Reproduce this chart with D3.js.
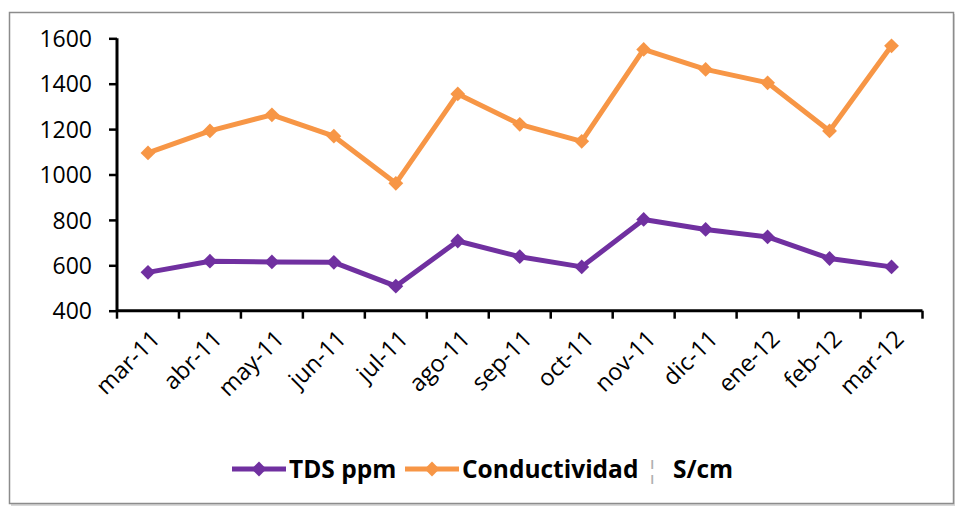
<!DOCTYPE html>
<html>
<head>
<meta charset="utf-8">
<script src="https://cdn.jsdelivr.net/npm/d3@7"></script>
<style>
  body { margin: 0; background: #fff; }
  text { font-family: "Open Sans", sans-serif; fill: #000; }
</style>
</head>
<body>
<svg id="chart" width="956" height="508"></svg>
<script>
// data
var months = ['mar-11','abr-11','may-11','jun-11','jul-11','ago-11','sep-11','oct-11','nov-11','dic-11','ene-12','feb-12','mar-12'];
var tdsValues = [569, 618, 615, 613, 508, 707, 638, 593, 802, 758, 725, 630, 593];
var condValues = [1095, 1192, 1263, 1169, 961, 1355, 1221, 1146, 1551, 1463, 1404, 1192, 1567];
var yTicks = [400, 600, 800, 1000, 1200, 1400, 1600];

var seriesList = [
  { name: 'TDS ppm', values: tdsValues, color: '#7030A0' },
  { name: 'Conductividad', unit: 'S/cm', values: condValues, color: '#F79646' }
];

var svg = d3.select('#chart');

// frame with a little shadow
svg.append('rect').attr('x', 11).attr('y', 14).attr('width', 944).attr('height', 492)
    .style('fill', '#d8d8d8');
svg.append('rect').attr('x', 9.5).attr('y', 12.5).attr('width', 944).attr('height', 491)
    .style('fill', '#fff').style('stroke', '#8c8c8c').style('stroke-width', 1.5);

var x = d3.scaleBand().domain(months).range([117, 922.5]);
var y = d3.scaleLinear().domain([400, 1600]).range([310.7, 38.3]);

var gChart = svg.append('g');

// y axis
var yAxis = gChart.append('g').attr('transform', 'translate(117,0)')
    .call(d3.axisLeft(y).tickValues(yTicks).tickSize(8).tickPadding(17).tickFormat(d3.format('d')));
// x axis, ticks on category boundaries
var bounds = months.map(m => x(m)).concat([x.range()[1]]);
var xAxis = gChart.append('g').attr('transform', 'translate(0,' + y(400) + ')');
xAxis.append('line').attr('x1', 117).attr('x2', x.range()[1])
    .style('stroke', '#000').style('stroke-width', 3);
xAxis.selectAll('.xtick').data(bounds).enter().append('line')
    .attr('class', 'xtick')
    .attr('x1', d => d).attr('x2', d => d).attr('y1', 0).attr('y2', 8)
    .style('stroke', '#000').style('stroke-width', 2.5);

yAxis.select('.domain').attr('d', 'M0,' + y(400) + 'V' + y(1600)).style('stroke', '#000').style('stroke-width', 3);
yAxis.selectAll('.tick line').style('stroke', '#000').style('stroke-width', 2.5);
yAxis.selectAll('.tick text').style('font-size', '23px').attr('dy', '0.36em');

xAxis.selectAll('.xlabel').data(months).enter().append('text')
    .attr('class', 'xlabel')
    .attr('transform', d => 'translate(' + (x(d) + x.bandwidth() / 2 + 2) + ',' + 18 + ') rotate(-45)')
    .attr('text-anchor', 'end')
    .attr('dy', '0.7em')
    .style('font-size', '23.5px')
    .text(d => d);

var diamond = d3.symbol().type(d3.symbolDiamond2).size(140);

// lines and markers
var line = d3.line()
    .x((d, i) => x(months[i]) + x.bandwidth() / 2)
    .y(d => y(d));

seriesList.forEach(function(s) {
  gChart.append('path').datum(s.values)
      .attr('d', line)
      .style('fill', 'none').style('stroke', s.color).style('stroke-width', 5)
      .style('stroke-linejoin', 'round');
  gChart.selectAll(null).data(s.values).enter().append('path')
      .attr('d', diamond)
      .attr('transform', (d, i) => 'translate(' + (x(months[i]) + x.bandwidth() / 2) + ',' + y(d) + ')')
      .style('fill', s.color);
});

// legend
var legendPos = [232, 405];
seriesList.forEach(function(s, i) {
  var g = svg.append('g').attr('transform', 'translate(' + legendPos[i] + ',469)');
  g.append('line').attr('x1', 0).attr('x2', 54)
      .style('stroke', s.color).style('stroke-width', 5);
  g.append('path').attr('d', diamond).attr('transform', 'translate(27,0)').style('fill', s.color);
  var t = g.append('text').attr('x', 57).attr('dy', '0.36em')
      .style('font-size', '24.5px').style('font-weight', 'bold');
  t.append('tspan').text(s.name);
  if (s.unit) {
    t.append('tspan').attr('dx', 7).style('fill', '#b0b0b0').style('font-weight', 'normal').text('¦');
    t.append('tspan').attr('dx', 14).text(s.unit);
  }
});
</script>
</body>
</html>
